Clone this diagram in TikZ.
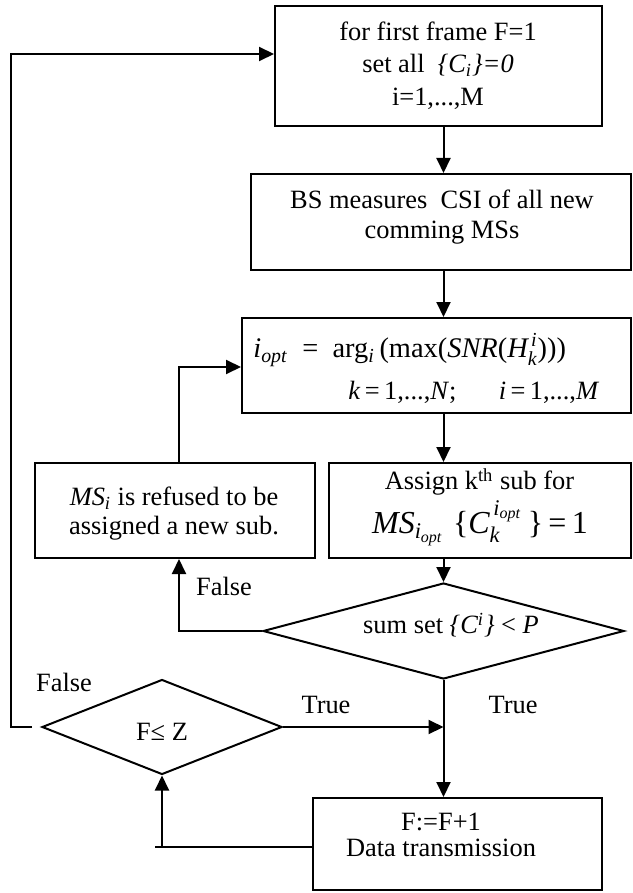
\documentclass[tikz,border=0pt]{standalone}
\usepackage{amsmath}
\usepackage{fontspec}
\setmainfont{Liberation Serif}
\usetikzlibrary{arrows.meta,shapes.geometric}
\begin{document}
\begin{tikzpicture}[x=0.5pt,y=-0.5pt,
  box/.style={draw,line width=1pt,rectangle,inner sep=0pt},
  decision/.style={draw,line width=1pt,diamond,inner sep=0pt},
  flow/.style={line width=1pt,-{Triangle[length=7.5pt,width=7pt]}},
  plain/.style={line width=1pt},
  txt/.style={font=\fontsize{13.2}{16.25}\selectfont,align=center,inner sep=0pt},
]
\useasboundingbox (0,0) rectangle (632,893);

% process boxes
\node[box,minimum width=163.5pt,minimum height=60pt]   (init)   at (438.5,66)  {};
\node[box,minimum width=190pt,minimum height=48pt]     (csi)    at (441,222)   {};
\node[box,minimum width=194.5pt,minimum height=47.5pt] (opt)    at (436.5,365.5) {};
\node[box,minimum width=140pt,minimum height=47.5pt]   (refuse) at (175,510.5) {};
\node[box,minimum width=151pt,minimum height=47.5pt]   (assign) at (480,510.5) {};
\node[box,minimum width=144.5pt,minimum height=46pt]   (data)   at (457.5,844) {};

% decisions
\node[decision,minimum width=180.5pt,minimum height=48pt] (sum) at (443.5,631) {};
\node[decision,minimum width=120pt,minimum height=47.5pt] (fz)  at (162,727) {};

% texts
\node[txt] (tinit) at (438,65.5) {for first frame F=1\\set all\ \ \textit{\{C\textsubscript{i}\}=0}\\i=1,...,M};
\node[txt,font=\fontsize{13.2}{15}\selectfont] (tcsi) at (442,217) {BS measures\ \ CSI of all new\\comming MSs};
\node[txt,anchor=west,font=\fontsize{14.2}{16}\selectfont] (topt1) at (253,350)
  {\textit{i}\textsubscript{\textit{opt}}\enspace=\enspace arg\textsubscript{\textit{i}}\,(max(\textit{SNR}($\textit{H}^{\,\textit{i}}_{\textit{k}}$)))};
\node[txt,anchor=west] (topt2) at (348,392)
  {\textit{k}\,=\,1,...,\textit{N};\hspace{1.6em}\textit{i}\,=\,1,...,\textit{M}};
\node[txt,font=\fontsize{13.2}{14.5}\selectfont] (trefuse) at (174,513.5)
  {\textit{MS}\textsubscript{\textit{i}} is refused to be\\assigned a new sub.};
\node[txt] (tassign1) at (479.5,482) {Assign k\textsuperscript{th} sub for};
\node[txt,font=\fontsize{16}{19}\selectfont] (tassign2) at (480,523)
  {$\textit{MS}_{\textit{i}_{\textit{opt}}}\;\text{\{}\textit{C}^{\,\textit{i}_{\textit{opt}}}_{\textit{k}}\,\text{\}}\text{\,=\,1}$};
\node[txt] (tsum) at (451,625) {sum set \textit{\{C\textsuperscript{i}\}} < \textit{P}};
\node[txt] (tfz) at (162,732) {F≤ Z};
\node[txt,font=\fontsize{13.2}{13}\selectfont] (tdata) at (441,835) {F:=F+1\\Data transmission};

% branch labels
\node[txt] (lfalse1) at (224,586) {False};
\node[txt] (lfalse2) at (64,682)  {False};
\node[txt] (ltrue1)  at (326,705) {True};
\node[txt] (ltrue2)  at (513,705) {True};

% junction points
\coordinate (col)    at (443.5,0);
\coordinate (loopx)  at (11,0);
\coordinate (topin)  at (0,54);
\coordinate (retx)   at (179,0);
\coordinate (retin)  at (0,367);
\coordinate (merge)  at (443.5,727);
\coordinate (back)   at (0,847);

% main flow
\draw[flow] (init.south -| col) -- (csi.north -| col);
\draw[flow] (csi.south -| col) -- (opt.north -| col);
\draw[flow] (opt.south -| col) -- (assign.north -| col);
\draw[flow] (assign.south -| col) -- (sum.north);
\draw[flow] (sum.south) -- (data.north -| col);

% false branch of the sum test, back to the optimisation step
\draw[flow] (sum.west) -- (sum.west -| retx) -- (refuse.south -| retx);
\draw[flow] (refuse.north -| retx) -- (retin -| retx) -- (retin -| opt.west);

% frame loop
\draw[flow] (fz.east) -- (merge);
\draw[flow] (data.west |- back) -- (back -| fz.south) -- (fz.south);
\draw[plain] (back -| fz.south) -- ++(-7,0);
\draw[flow,shorten <=4.5pt] (fz.west) -- (fz.west -| loopx) -- (topin -| loopx) -- (topin -| init.west);
\end{tikzpicture}
\end{document}
